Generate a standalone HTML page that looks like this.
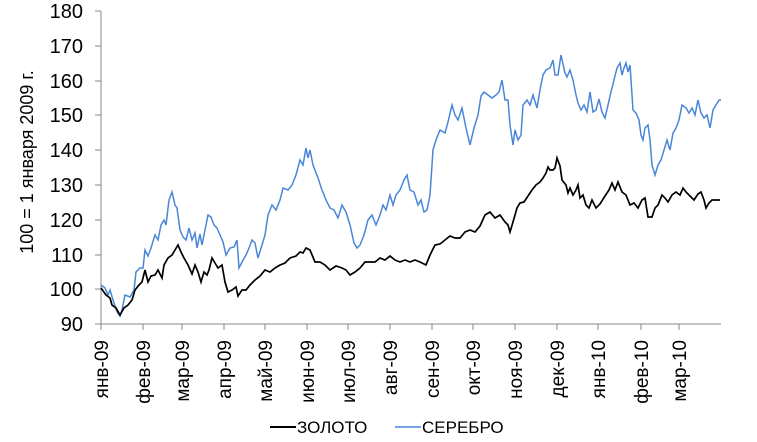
<!DOCTYPE html>
<html><head><meta charset="utf-8"><style>
body{margin:0;background:#fff;}
svg{display:block;font-family:"Liberation Sans","DejaVu Sans",sans-serif;}
</style></head><body>
<svg width="757" height="442" viewBox="0 0 757 442">
<g font-size="20" fill="#000" text-anchor="end">
<text x="83" y="18">180</text><text x="83" y="53">170</text><text x="83" y="88">160</text>
<text x="83" y="122">150</text><text x="83" y="157">140</text><text x="83" y="192">130</text>
<text x="83" y="227">120</text><text x="83" y="262">110</text><text x="83" y="296">100</text>
<text x="83" y="331">90</text>
</g>
<text transform="translate(33,162) rotate(-90)" font-size="18" text-anchor="middle">100 = 1 января 2009 г.</text>
<g stroke="#888" stroke-width="1">
<line x1="101" y1="11" x2="101" y2="324"/>
<line x1="101" y1="324" x2="721" y2="324"/>
<line x1="95" y1="11" x2="101" y2="11"/><line x1="95" y1="46" x2="101" y2="46"/>
<line x1="95" y1="81" x2="101" y2="81"/><line x1="95" y1="115" x2="101" y2="115"/>
<line x1="95" y1="150" x2="101" y2="150"/><line x1="95" y1="185" x2="101" y2="185"/>
<line x1="95" y1="220" x2="101" y2="220"/><line x1="95" y1="255" x2="101" y2="255"/>
<line x1="95" y1="289" x2="101" y2="289"/><line x1="95" y1="324" x2="101" y2="324"/>
<line x1="101" y1="324" x2="101" y2="330"/><line x1="143" y1="324" x2="143" y2="330"/>
<line x1="182" y1="324" x2="182" y2="330"/><line x1="224" y1="324" x2="224" y2="330"/>
<line x1="265" y1="324" x2="265" y2="330"/><line x1="307" y1="324" x2="307" y2="330"/>
<line x1="348" y1="324" x2="348" y2="330"/><line x1="390" y1="324" x2="390" y2="330"/>
<line x1="432" y1="324" x2="432" y2="330"/><line x1="473" y1="324" x2="473" y2="330"/>
<line x1="515" y1="324" x2="515" y2="330"/><line x1="557" y1="324" x2="557" y2="330"/>
<line x1="598" y1="324" x2="598" y2="330"/><line x1="641" y1="324" x2="641" y2="330"/>
<line x1="679" y1="324" x2="679" y2="330"/>
</g>
<g font-size="19" text-anchor="end">
<text transform="translate(108,340) rotate(-90)">янв-09</text>
<text transform="translate(150,340) rotate(-90)">фев-09</text>
<text transform="translate(189,340) rotate(-90)">мар-09</text>
<text transform="translate(231,340) rotate(-90)">апр-09</text>
<text transform="translate(272,340) rotate(-90)">май-09</text>
<text transform="translate(314,340) rotate(-90)">июн-09</text>
<text transform="translate(355,340) rotate(-90)">июл-09</text>
<text transform="translate(397,340) rotate(-90)">авг-09</text>
<text transform="translate(439,340) rotate(-90)">сен-09</text>
<text transform="translate(480,340) rotate(-90)">окт-09</text>
<text transform="translate(522,340) rotate(-90)">ноя-09</text>
<text transform="translate(564,340) rotate(-90)">дек-09</text>
<text transform="translate(605,340) rotate(-90)">янв-10</text>
<text transform="translate(648,340) rotate(-90)">фев-10</text>
<text transform="translate(686,340) rotate(-90)">мар-10</text>
</g>
<polyline fill="none" stroke="#4a86d8" stroke-width="1.5" points="101,285 105,288 108,295 110,290 113,300 117,312 120,316 122,310 125,295 130,297 134,290 136,272 140,268 143,268 145,250 148,256 151,248 155,235 158,240 161,225 164,220 166,225 169,200 172,192 175,205 177,208 180,230 183,237 186,240 189,228 192,240 195,233 197,248 200,234 202,245 205,230 208,215 211,217 214,225 217,228 220,235 223,242 226,255 230,248 234,247 237,240 239,268 243,260 246,255 249,248 252,240 255,243 258,258 262,245 265,235 268,215 272,205 276,210 280,200 283,188 288,190 292,185 296,175 300,160 303,165 306,148 308,158 310,150 313,165 318,178 322,190 326,200 330,208 334,210 338,218 342,205 346,212 350,225 354,243 357,248 360,245 364,235 368,220 372,215 376,225 380,215 383,205 386,210 390,195 393,205 396,195 400,190 404,180 407,175 410,190 414,192 418,205 421,200 424,212 427,210 430,195 433,150 436,140 440,130 445,133 448,122 452,105 455,115 458,120 462,108 466,128 470,145 474,128 478,115 481,96 484,92 488,95 492,98 496,95 499,92 502,80 505,100 508,100 510,125 513,145 515,130 518,140 521,135 523,105 527,100 530,105 533,95 537,108 540,90 543,75 546,70 550,68 553,60 555,75 558,75 561,55 565,73 567,77 570,70 573,80 576,95 578,103 581,110 584,105 587,112 590,92 593,112 596,110 599,99 602,112 605,118 608,105 611,92 614,80 617,68 620,63 622,75 624,68 626,63 628,72 630,65 633,110 636,113 639,120 641,135 643,140 645,128 648,125 650,140 652,165 655,175 658,165 661,160 664,150 667,140 670,150 673,133 676,128 679,120 682,105 686,108 689,113 692,108 695,115 698,100 701,113 704,118 707,115 710,128 713,110 716,105 719,100 721,100"/>
<polyline fill="none" stroke="#000" stroke-width="1.7" points="101,288 106,295 110,298 112,305 116,308 120,315 124,308 128,305 132,300 135,290 139,285 142,282 145,270 148,282 151,276 155,275 158,270 162,278 164,265 168,258 172,255 175,250 178,245 181,252 184,258 188,265 192,274 195,265 198,272 201,282 204,272 207,275 209,270 212,258 215,263 218,268 222,265 225,282 228,292 232,290 236,287 238,296 242,290 246,290 250,285 255,280 260,276 265,270 270,272 275,268 280,265 285,263 290,258 296,256 300,252 303,253 306,248 310,250 315,262 320,262 325,265 330,270 336,266 342,268 346,270 350,275 355,272 360,268 365,262 370,262 375,262 380,258 385,260 390,256 395,260 400,262 405,260 410,262 415,260 420,262 426,265 430,255 435,245 440,244 445,240 450,236 455,238 460,238 465,232 470,230 475,232 480,226 485,215 490,212 495,218 500,215 505,222 508,225 510,232 513,222 517,208 520,203 524,202 528,196 532,190 536,185 540,182 543,178 546,173 548,167 550,170 553,170 555,168 557,158 560,166 562,180 566,185 568,193 570,188 573,195 576,190 578,185 580,198 583,195 586,205 589,208 592,200 596,208 600,204 605,196 609,190 612,183 615,190 618,182 622,192 626,195 630,205 634,203 638,208 642,200 645,198 648,217 652,217 655,208 658,205 662,195 665,198 668,202 672,195 676,192 680,195 683,188 686,192 690,196 694,200 698,194 701,192 704,200 706,208 709,203 712,200 716,200 720,200"/>
<line x1="270" y1="427" x2="296" y2="427" stroke="#000" stroke-width="2"/>
<text x="297" y="433" font-size="17">ЗОЛОТО</text>
<line x1="395" y1="427" x2="421" y2="427" stroke="#4a86d8" stroke-width="1.5"/>
<text x="422" y="433" font-size="17">СЕРЕБРО</text>
</svg>
</body></html>
